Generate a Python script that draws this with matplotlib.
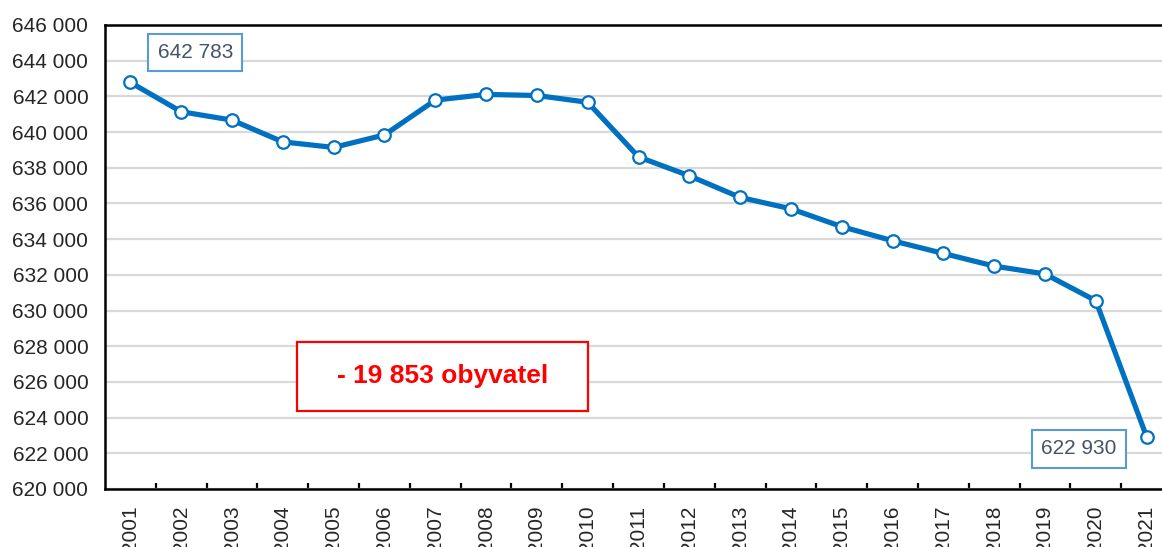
import matplotlib
matplotlib.use("Agg")
import matplotlib.pyplot as plt
from matplotlib.patches import Rectangle

plt.rcParams["font.family"] = ["Liberation Sans", "DejaVu Sans"]

years = [str(y) for y in range(2001, 2022)]
population = [642783, 641140, 640670, 639450, 639140, 639840, 641790, 642110,
              642050, 641670, 638610, 637550, 636340, 635700, 634700, 633910,
              633200, 632490, 632050, 630550, 622930]
y_ticks = list(range(620000, 646001, 2000))
change_label = "- 19 853 obyvatel"

blue = "#0070C0"
grid_c = "#d9d9d9"
txt_c = "#262626"


def fmt(v):
    return f"{v:,}".replace(",", " ")


fig = plt.figure(figsize=(11.62, 5.47), dpi=100)
# axes box runs a little past the right edge, like in the source picture
ax = fig.add_axes([105 / 1162, 1 - 489 / 547, 1067 / 1162, 464 / 547])

x = list(range(len(years)))
ax.plot(x, population, color=blue, lw=3.75, zorder=3,
        marker="o", ms=9, mfc="white", mec=blue, mew=1.6)

ax.set_xlim(-0.5, len(years) - 0.5)
ax.set_ylim(y_ticks[0], y_ticks[-1])
ax.set_yticks(y_ticks)
ax.set_yticklabels([fmt(v) for v in y_ticks], fontsize=15, color=txt_c)
ax.set_xticks(x)
ax.set_xticklabels(years, rotation=90, fontsize=15, color=txt_c)
ax.set_xticks([i + 0.5 for i in x[:-1]], minor=True)

ax.tick_params(axis="y", length=0, pad=12)
ax.tick_params(axis="x", which="major", length=0, pad=12)
ax.tick_params(axis="x", which="minor", direction="in", length=4, width=1.6,
               color="black")

ax.grid(axis="y", color=grid_c, lw=1.6, zorder=0)
ax.set_axisbelow(True)
for side in ["left", "bottom", "top", "right"]:
    ax.spines[side].set_linewidth(1.8)
    ax.spines[side].set_color("black")

box = dict(boxstyle="square,pad=0.45", fc="white", ec="#5B9BD5", lw=1.5)
ax.annotate(fmt(population[0]), xy=(x[0], population[0]), xytext=(65, 30),
            textcoords="offset pixels", ha="center", va="center",
            fontsize=15, color="#44546A", bbox=box, zorder=4)
ax.annotate(fmt(population[-1]), xy=(x[-1], population[-1]), xytext=(-68, -12),
            textcoords="offset pixels", ha="center", va="center",
            fontsize=15, color="#44546A", bbox=box, zorder=4)

ax.add_patch(Rectangle((0.180, 0.168), 0.2727, 0.1487, transform=ax.transAxes,
                       fc="white", ec="#FF0000", lw=1.6, zorder=4))
ax.text(0.316, 0.2435, change_label, transform=ax.transAxes, ha="center",
        va="center", fontsize=19, fontweight="bold", color="#FF0000", zorder=5)

fig.savefig("out.png", dpi=100)
